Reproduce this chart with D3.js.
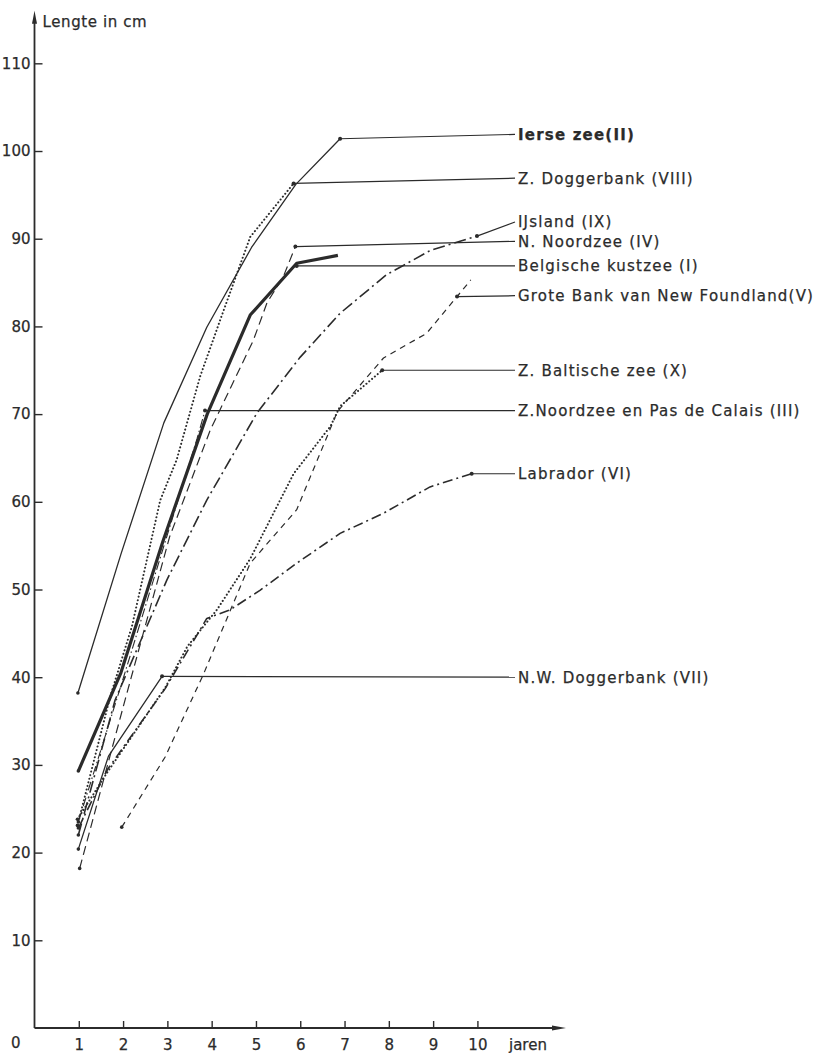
<!DOCTYPE html>
<html>
<head>
<meta charset="utf-8">
<script src="https://cdn.jsdelivr.net/npm/d3@7/dist/d3.min.js"></script>
<style>
  body { margin: 0; background: #fff; }
  text { font-family: "DejaVu Sans", sans-serif; fill: #2b2b2b; stroke: #2b2b2b; stroke-width: 0.25; }
</style>
</head>
<body>
<div id="chart"></div>
<script>
// Lengte (cm) tegen leeftijd (jaren)
const belgischeKustzee = [[0.99, 29.3], [1.95, 40.5], [2.9, 55.5], [3.9, 70], [4.87, 81.3], [5.92, 87.2], [6.85, 88.1]];
const ierseZee = [[0.98, 38.2], [1.95, 54], [2.92, 69], [3.89, 79.9], [4.9, 89], [5.9, 96.2], [6.9, 101.4]];
const zNoordzeeCalais = [[0.99, 23.5], [1.95, 39], [3.1, 57.9], [3.67, 67.2], [3.85, 70.4]];
const nNoordzee = [[1.02, 18.2], [2.05, 37.5], [3.05, 56], [3.97, 68.2], [4.94, 78.4], [5.25, 82.7], [5.62, 85.7], [5.89, 89.1]];
const groteBank = [[1.97, 22.9], [2.95, 30.9], [3.82, 40.4], [4.87, 53], [5.92, 59.1], [6.84, 70.3], [7.88, 76.4], [8.85, 79.2], [9.54, 83.4], [9.85, 85.3]];
const labrador = [[0.99, 22.8], [1.65, 29.5], [2.95, 38.7], [3.89, 46.7], [4.42, 47.7], [5.09, 49.9], [5.92, 53], [6.9, 56.4], [7.88, 58.7], [8.93, 61.7], [9.87, 63.2]];
const nwDoggerbank = [[0.99, 20.4], [1.67, 31], [2.88, 40.1]];
const zDoggerbank = [[0.97, 23.1], [1.71, 37.8], [2.2, 45.8], [2.84, 60.2], [3.21, 64.8], [3.74, 74.3], [4.19, 80.7], [4.87, 90.2], [5.85, 96.3]];
const ijsland = [[0.99, 22], [1.82, 37.4], [2.99, 51.1], [3.89, 60.2], [5.02, 70.1], [6.0, 76.5], [6.9, 81.5], [7.95, 85.9], [8.95, 88.7], [9.99, 90.3]];
const zBaltischeZee = [[0.97, 23.8], [1.65, 29.2], [2.95, 38.8], [3.45, 43.5], [4.12, 47.7], [4.87, 53.5], [5.85, 63.2], [6.68, 68.6], [6.9, 70.9], [7.85, 75.0]];

const seriesIds = ['I', 'II', 'III', 'IV', 'V', 'VI', 'VII', 'VIII', 'IX', 'X'];
const seriesLabels = [
  'Belgische kustzee (I)', 'Ierse zee(II)', 'Z.Noordzee en Pas de Calais (III)',
  'N. Noordzee (IV)', 'Grote Bank van New Foundland(V)', 'Labrador (VI)',
  'N.W. Doggerbank (VII)', 'Z. Doggerbank (VIII)', 'IJsland (IX)', 'Z. Baltische zee (X)'
];
const seriesValues = [belgischeKustzee, ierseZee, zNoordzeeCalais, nNoordzee, groteBank,
  labrador, nwDoggerbank, zDoggerbank, ijsland, zBaltischeZee];

const xTicks = [1, 2, 3, 4, 5, 6, 7, 8, 9, 10];
const yTicks = [10, 20, 30, 40, 50, 60, 70, 80, 90, 100, 110];

// Layout: where the leader line leaves the curve and the height (cm) of its label
const leaderFrom = { I: [5.92, 86.9], II: [6.9, 101.4], III: [3.85, 70.4], IV: [5.89, 89.1],
  V: [9.54, 83.4], VI: [9.87, 63.2], VII: [2.88, 40.1], VIII: [5.85, 96.3], IX: [9.99, 90.3], X: [7.85, 75.0] };
const labelAt = { I: 86.9, II: 101.9, III: 70.4, IV: 89.7, V: 83.5, VI: 63.2, VII: 40.0, VIII: 96.9, IX: 91.9, X: 75.0 };

const styles = {
  I: { width: 3.2, dash: null },
  II: { width: 1.3, dash: null },
  III: { width: 1.1, dash: '9,3,1.5,3' },
  IV: { width: 1.2, dash: '9,5' },
  V: { width: 1.2, dash: '6,5' },
  VI: { width: 1.6, dash: '10,4,2,4' },
  VII: { width: 1.3, dash: null },
  VIII: { width: 2, dash: '0.1,3.6', cap: 'round' },
  IX: { width: 1.6, dash: '12,4,2,4' },
  X: { width: 2, dash: '0.1,3.6', cap: 'round' }
};

const INK = '#2b2b2b';
const WIDTH = 821;
const HEIGHT = 1053;
const LABEL_X = 515;

const series = seriesIds.map((id, i) => ({ id, label: seriesLabels[i], values: seriesValues[i] }));

const svg = d3.select('#chart')
  .append('svg')
  .attr('width', WIDTH)
  .attr('height', HEIGHT);

const x = d3.scaleLinear().domain([0, 12]).range([34.5, 566]);
const y = d3.scaleLinear().domain([0, 116]).range([1028, 10.7]);

// Axes
const yAxis = d3.axisLeft(y)
  .tickValues(yTicks)
  .tickFormat(d3.format('d'))
  .tickSizeInner(-8)
  .tickSizeOuter(0)
  .tickPadding(4);

const xAxis = d3.axisBottom(x)
  .tickValues(xTicks)
  .tickFormat(d3.format('d'))
  .tickSizeInner(-7)
  .tickSizeOuter(0)
  .tickPadding(11);

const gy = svg.append('g')
  .attr('transform', `translate(${x(0)},0)`)
  .call(yAxis);
const gx = svg.append('g')
  .attr('transform', `translate(0,${y(0)})`)
  .call(xAxis);

for (const g of [gx, gy]) {
  g.select('.domain').remove();
  g.selectAll('line').attr('stroke', INK).attr('stroke-width', 1.4);
  g.selectAll('text').attr('font-size', 15).attr('font-family', '"DejaVu Sans", sans-serif').attr('fill', INK);
}

svg.append('line')
  .attr('x1', x(0)).attr('y1', y(0))
  .attr('x2', x(0)).attr('y2', y(115))
  .attr('stroke', INK).attr('stroke-width', 1.8);
svg.append('line')
  .attr('x1', x(0)).attr('y1', y(0))
  .attr('x2', x(11.8)).attr('y2', y(0))
  .attr('stroke', INK).attr('stroke-width', 1.8);

// arrow heads
svg.append('path')
  .attr('d', `M${x(0)},${y(116)} L${x(0) - 2.5},${y(116) + 13} L${x(0) + 2.5},${y(116) + 13} Z`)
  .attr('fill', INK);
svg.append('path')
  .attr('d', `M${x(12)},${y(0)} L${x(12) - 14},${y(0) - 2.5} L${x(12) - 14},${y(0) + 2.5} Z`)
  .attr('fill', INK);

svg.append('text')
  .attr('x', 11).attr('y', 1048)
  .attr('font-size', 15)
  .text('0');

svg.append('text')
  .attr('x', x(0) + 8).attr('y', 27)
  .attr('font-size', 15)
  .attr('letter-spacing', 0.6)
  .text('Lengte in cm');

svg.append('text')
  .attr('x', 509).attr('y', 1050)
  .attr('font-size', 15)
  .text('jaren');

// Curves
const line = d3.line()
  .x((d) => x(d[0]))
  .y((d) => y(d[1]));

svg.append('g')
  .selectAll('path')
  .data(series)
  .enter()
    .append('path')
    .attr('fill', 'none')
    .attr('stroke', INK)
    .attr('stroke-width', (d) => styles[d.id].width)
    .attr('stroke-dasharray', (d) => styles[d.id].dash)
    .attr('stroke-linecap', (d) => styles[d.id].cap || 'butt')
    .attr('stroke-linejoin', 'round')
    .attr('d', (d) => line(d.values));

// start dots
svg.append('g')
  .selectAll('circle')
  .data(series)
  .enter()
    .append('circle')
    .attr('cx', (d) => x(d.values[0][0]))
    .attr('cy', (d) => y(d.values[0][1]))
    .attr('r', 1.8)
    .attr('fill', INK);

// Leaders and labels
const labels = svg.append('g')
  .selectAll('g')
  .data(series)
  .enter()
    .append('g');

labels.append('line')
  .attr('x1', (d) => x(leaderFrom[d.id][0]))
  .attr('y1', (d) => y(leaderFrom[d.id][1]))
  .attr('x2', LABEL_X)
  .attr('y2', (d) => y(labelAt[d.id]))
  .attr('stroke', INK)
  .attr('stroke-width', 1.2);

labels.append('circle')
  .attr('cx', (d) => x(leaderFrom[d.id][0]))
  .attr('cy', (d) => y(leaderFrom[d.id][1]))
  .attr('r', 2)
  .attr('fill', INK);

labels.append('text')
  .attr('x', LABEL_X + 3)
  .attr('y', (d) => y(labelAt[d.id]))
  .attr('dy', '0.36em')
  .attr('font-size', 15)
  .attr('letter-spacing', 1.2)
  .attr('font-weight', (d) => d.id === 'II' ? 'bold' : 'normal')
  .text((d) => d.label);
</script>
</body>
</html>
